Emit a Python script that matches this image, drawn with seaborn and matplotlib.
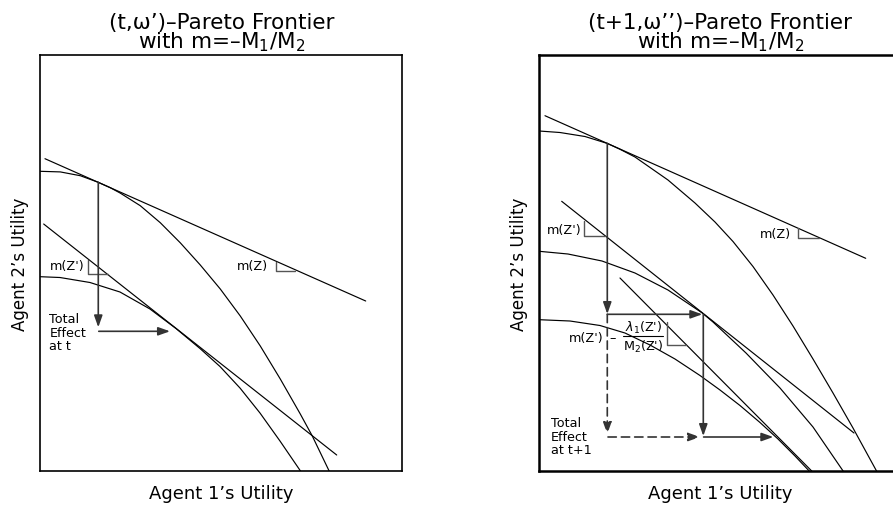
import matplotlib
matplotlib.use("Agg")
import matplotlib.pyplot as plt
import seaborn as sns

# values in "utility" units measured from the lower-left corner of each box

# ---- left panel: (t, w') frontier ----
L_outer_u1 = [0, 20, 40, 58, 70, 80, 100, 120, 140, 160, 180, 200, 220, 240, 260, 272, 289]
L_outer_u2 = [300, 299.4, 295.6, 289, 283.6, 278.2, 265.6, 248.6, 228.5, 206.3, 182.3, 155.3, 125.3, 92.3, 57.3, 35.3, 0]
L_inner_u1 = [0, 19.7, 49.7, 79.7, 109.7, 135.7, 159.7, 179.7, 199.7, 219.7, 239.7, 260.4]
L_inner_u2 = [194.6, 193.8, 188.8, 179.3, 162.3, 142.8, 122.8, 104.8, 83.3, 58.3, 30.3, 0]
L_tanZ_u1 = [4.7, 325.4]
L_tanZ_u2 = [312.6, 170.3]
L_tanZp_u1 = [3.4, 296.4]
L_tanZp_u2 = [247.3, 16.3]
# arrows: start x, start y, end x, end y
L_arrows = [(58, 289, 58, 144), (58.5, 140, 129.7, 140)]
# slope markers: corner x, top y, bottom y, end x
L_marks = [(47.4, 211, 197.3, 68), (235.7, 209.6, 200.3, 254.7)]

# ---- right panel: (t+1, w'') frontier ----
R_outer_u1 = [0, 20.7, 45.7, 68, 80, 95.7, 128.7, 155.7, 175.7, 193.7, 213.7, 233.7, 253.7, 273.7, 293.7, 313.7, 337.4]
R_outer_u2 = [340.3, 338.8, 334.8, 327.9, 322.4, 314.3, 291.3, 268.3, 249.3, 229.8, 204.8, 176.3, 145.3, 112.3, 78.3, 43.3, 0]
R_mid_u1 = [0, 28.7, 62.7, 95.7, 128.7, 163, 173.7, 206.7, 240.7, 273.7, 304]
R_mid_u2 = [220, 217.3, 210.3, 198.3, 181.3, 158.3, 149.3, 118.3, 83.3, 44.3, 0]
R_inner_u1 = [0, 30.7, 60.7, 85.7, 110.7, 135.7, 160.7, 180.7, 200.7, 220.7, 238.7, 255.7, 270.2]
R_inner_u2 = [151.6, 150.3, 145.8, 138.3, 126.3, 112.3, 95.8, 81.3, 65.8, 48.8, 32.3, 15.3, 0]
R_tanZ_u1 = [5.7, 326.4]
R_tanZ_u2 = [355.6, 213]
R_tanZp_u1 = [22.4, 314.7]
R_tanZp_u2 = [270, 38.3]
R_tanZpp_u1 = [80.7, 272.7]
R_tanZpp_u2 = [193.3, 0]
R_arrows = [(68, 327.9, 68, 157.3), (68, 157, 163, 157),
            (164, 157, 164, 35.3), (164.3, 34.3, 234, 34.3)]
R_dashed = [(68, 157, 68, 37.3), (68.7, 34.3, 160.7, 34.3)]
R_marks = [(45, 250.6, 235, 65.7), (258.7, 243, 233, 279.7), (127.4, 149, 126.3, 146.7)]

sns.set_style("white")
plt.rcParams["font.family"] = ["DejaVu Sans"]
plt.rcParams["mathtext.fontset"] = "dejavusans"
plt.rcParams["text.color"] = "black"
plt.rcParams["axes.labelcolor"] = "black"

fig = plt.figure(figsize=(8.93, 5.06), dpi=100)
axL = fig.add_axes([0.0451, 0.0666, 0.4054, 0.8233])
axR = fig.add_axes([0.6039, 0.0666, 0.4054, 0.8233])

ARROW_C = "#333333"
MARK_C = "#555555"


def curve(ax, xs, ys):
    sns.lineplot(x=xs, y=ys, ax=ax, color="black", linewidth=0.85,
                 sort=False, estimator=None)


def arrow(ax, a, ls="-"):
    x0, y0, x1, y1 = a
    ax.annotate("", xy=(x1, y1), xytext=(x0, y0),
                arrowprops=dict(arrowstyle="-|>,head_length=0.7,head_width=0.25",
                                color=ARROW_C, lw=1.2, linestyle=ls,
                                shrinkA=0, shrinkB=0))


def mark(ax, m):
    x, ytop, ybot, xend = m
    ax.plot([x, x, xend], [ytop, ybot, ybot], color=MARK_C, lw=1.0)


# left
curve(axL, L_outer_u1, L_outer_u2)
curve(axL, L_inner_u1, L_inner_u2)
curve(axL, L_tanZ_u1, L_tanZ_u2)
curve(axL, L_tanZp_u1, L_tanZp_u2)
for a in L_arrows:
    arrow(axL, a)
for m in L_marks:
    mark(axL, m)
axL.text(9.7, 205.6, "m(Z')", fontsize=9.2, ha="left", va="center")
axL.text(196.4, 205.6, "m(Z)", fontsize=9.2, ha="left", va="center")
axL.text(9, 159, "Total\nEffect\nat t", fontsize=9.2, ha="left", va="top",
         linespacing=1.05)
axL.set_title("(t,ω’)–Pareto Frontier\nwith m=–M$_1$/M$_2$", fontsize=15.5,
              pad=5, linespacing=0.9)

# right
curve(axR, R_outer_u1, R_outer_u2)
curve(axR, R_mid_u1, R_mid_u2)
curve(axR, R_inner_u1, R_inner_u2)
curve(axR, R_tanZ_u1, R_tanZ_u2)
curve(axR, R_tanZp_u1, R_tanZp_u2)
curve(axR, R_tanZpp_u1, R_tanZpp_u2)
for a in R_arrows:
    arrow(axR, a)
for a in R_dashed:
    arrow(axR, a, ls=(0, (5, 3)))
for m in R_marks:
    mark(axR, m)
axR.text(7.4, 242.3, "m(Z')", fontsize=9.2, ha="left", va="center")
axR.text(220.4, 238.3, "m(Z)", fontsize=9.2, ha="left", va="center")
axR.text(64, 134, "m(Z')", fontsize=9.2, ha="right", va="center")
axR.text(73, 134, "–", fontsize=9.2, ha="center", va="center")
axR.text(104, 144, r"$\lambda_1$(Z')", fontsize=9.2, ha="center", va="center")
axR.plot([83.4, 124], [135.6, 135.6], color="black", lw=0.8)
axR.text(104, 125, "M$_2$(Z')", fontsize=9.2, ha="center", va="center")
axR.text(11.4, 55, "Total\nEffect\nat t+1", fontsize=9.2, ha="left", va="top",
         linespacing=1.05)
axR.set_title("(t+1,ω’’)–Pareto Frontier\nwith m=–M$_1$/M$_2$", fontsize=15.5,
              pad=5, linespacing=0.9)

for ax, lw in ((axL, 1.2), (axR, 1.8)):
    ax.set_xlim(0, 362)
    ax.set_ylim(0, 416.6)
    ax.set_xticks([])
    ax.set_yticks([])
    ax.set_xlabel("Agent 1’s Utility", fontsize=13, labelpad=9)
    ax.set_ylabel("Agent 2’s Utility", fontsize=12, labelpad=8)
    for s in ax.spines.values():
        s.set_color("black")
        s.set_linewidth(lw)

fig.savefig("out.png", dpi=100)
